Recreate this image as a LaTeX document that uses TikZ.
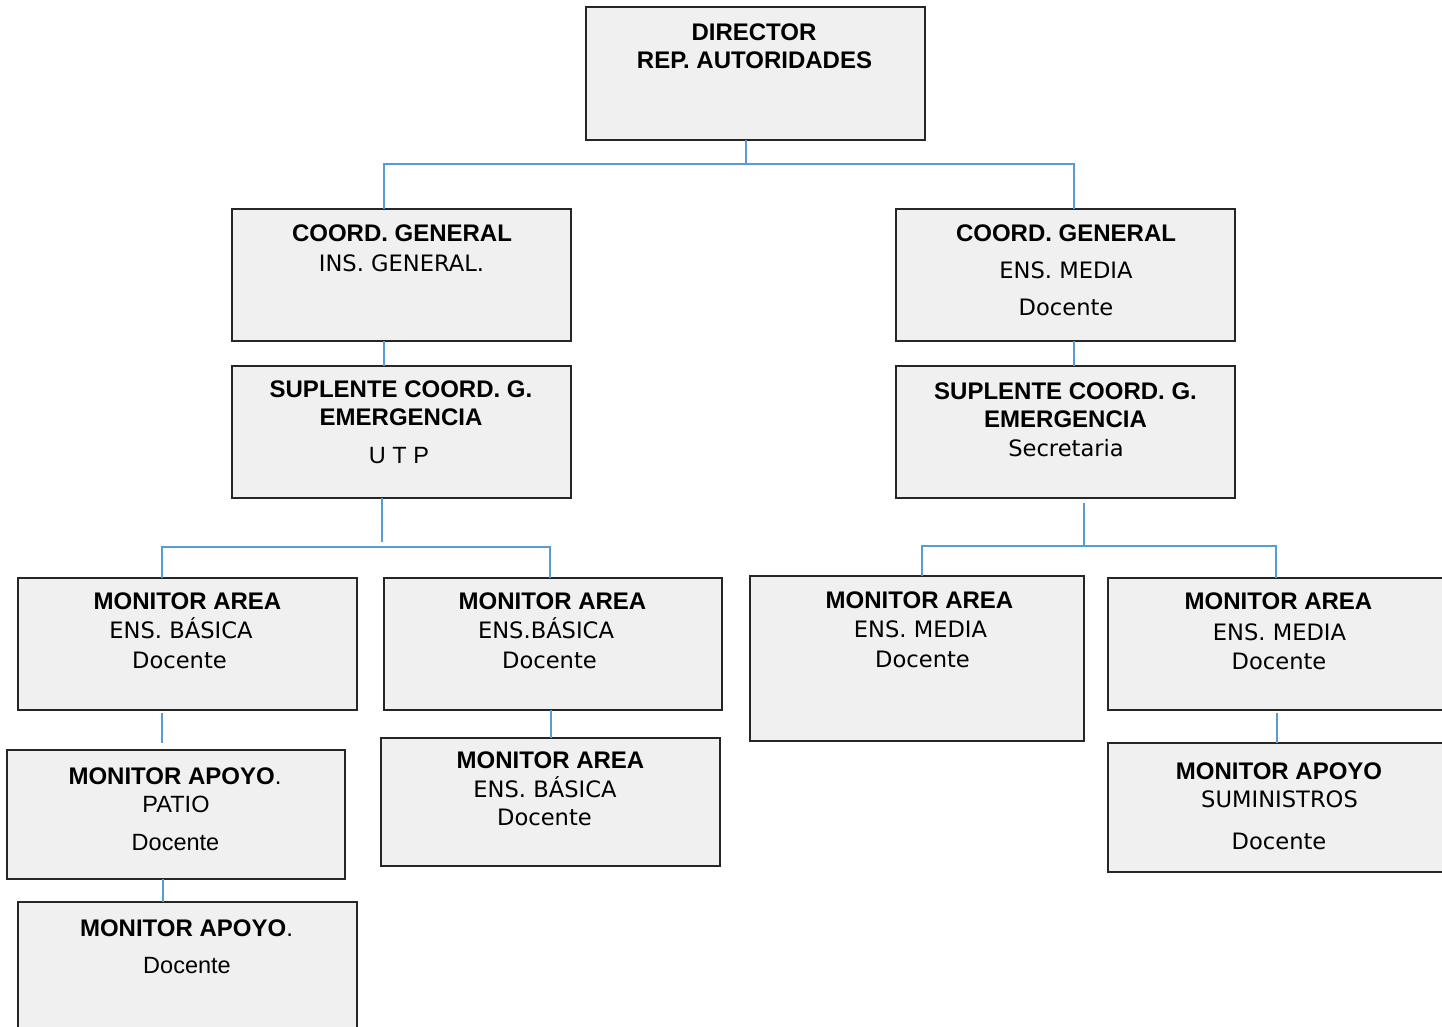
\documentclass[tikz,border=0pt]{standalone}
\usepackage{fontspec}
\setmainfont{Liberation Sans}
\newfontfamily\dvfont{DejaVu Sans}
\definecolor{boxfill}{HTML}{F0F0F0}
\definecolor{linkblue}{HTML}{5B9BD5}
\begin{document}
\begin{tikzpicture}[x=1pt,y=-1pt,
  box/.style={draw=black!85, line width=1.1pt, fill=boxfill, inner sep=0pt, outer sep=0pt, anchor=north west},
  bt/.style={font=\bfseries\fontsize{24}{24}\selectfont, anchor=base, inner sep=0pt},
  dt/.style={font=\dvfont\fontsize{22.6}{22.6}\selectfont, anchor=base, inner sep=0pt},
  rt/.style={font=\fontsize{23.5}{23.5}\selectfont, anchor=base, inner sep=0pt},
  conn/.style={draw=linkblue, line width=1.2pt}]
\useasboundingbox (0,0) rectangle (1442,1026);
\clip (0,0) rectangle (1442,1026);

% boxes
\node[box, minimum width=339pt, minimum height=133pt] (dir) at (586,7) {};
\node[box, minimum width=339pt, minimum height=132pt] (cgl) at (232,209) {};
\node[box, minimum width=339pt, minimum height=132pt] (cgr) at (896,209) {};
\node[box, minimum width=339pt, minimum height=132pt] (spl) at (232,366) {};
\node[box, minimum width=339pt, minimum height=132pt] (spr) at (896,366) {};
\node[box, minimum width=339pt, minimum height=132pt] (mal1) at (18,578) {};
\node[box, minimum width=338pt, minimum height=132pt] (mal2) at (384,578) {};
\node[box, minimum width=334pt, minimum height=165pt] (mar1) at (750,576) {};
\node[box, minimum width=345pt, minimum height=132pt] (mar2) at (1108,578) {};
\node[box, minimum width=338pt, minimum height=129pt] (apl1) at (7,750) {};
\node[box, minimum width=339pt, minimum height=140pt] (apl2) at (18,902) {};
\node[box, minimum width=339pt, minimum height=128pt] (mal3) at (381,738) {};
\node[box, minimum width=345pt, minimum height=129pt] (apr) at (1108,743) {};

% texts
\node[bt] (t1a) at (754,40) {DIRECTOR};
\node[bt] (t1b) at (754.5,68) {REP. AUTORIDADES};

\node[bt] (t2a) at (402,241) {COORD. GENERAL};
\node[dt] (t2b) at (401.5,271) {INS. GENERAL.};

\node[bt] (t3a) at (1066,241) {COORD. GENERAL};
\node[dt] (t3b) at (1066,278) {ENS. MEDIA};
\node[dt] (t3c) at (1066,315) {Docente};

\node[bt] (t4a) at (401,397) {SUPLENTE COORD. G.};
\node[bt] (t4b) at (401,425) {EMERGENCIA};
\node[rt] (t4c) at (399,463) {U T P};

\node[bt] (t5a) at (1065.5,399) {SUPLENTE COORD. G.};
\node[bt] (t5b) at (1065.5,427) {EMERGENCIA};
\node[dt] (t5c) at (1066,456) {Secretaria};

\node[bt] (t6a) at (187.5,609) {MONITOR AREA};
\node[dt] (t6b) at (181,638) {ENS. BÁSICA};
\node[dt] (t6c) at (179.5,668) {Docente};

\node[bt] (t7a) at (552.5,609) {MONITOR AREA};
\node[dt] (t7b) at (546,638) {ENS.BÁSICA};
\node[dt] (t7c) at (549.5,668) {Docente};

\node[bt] (t8a) at (919.5,608) {MONITOR AREA};
\node[dt] (t8b) at (920.5,637) {ENS. MEDIA};
\node[dt] (t8c) at (922.5,667) {Docente};

\node[bt] (t9a) at (1278.5,609) {MONITOR AREA};
\node[dt] (t9b) at (1279.5,640) {ENS. MEDIA};
\node[dt] (t9c) at (1279,669) {Docente};

\node[bt] (t10a) at (175,784) {MONITOR APOYO\textmd{.}};
\node[rt] (t10b) at (176,812) {PATIO};
\node[rt] (t10c) at (175.5,850) {Docente};

\node[bt] (t11a) at (186.5,936) {MONITOR APOYO\textmd{.}};
\node[rt] (t11b) at (187,973) {Docente};

\node[bt] (t12a) at (550.5,768) {MONITOR AREA};
\node[dt] (t12b) at (545,797) {ENS. BÁSICA};
\node[dt] (t12c) at (544.5,825) {Docente};

\node[bt] (t13a) at (1279,779) {MONITOR APOYO};
\node[dt] (t13b) at (1279.5,807) {SUMINISTROS};
\node[dt] (t13c) at (1279,849) {Docente};

% connectors
\draw[conn] (746,0 |- dir.south) -- (746,164);
\draw[conn] (384,0 |- cgl.north) -- (384,164) -- (1074,164) -- (1074,0 |- cgr.north);
\draw[conn] (384,0 |- cgl.south) -- (384,0 |- spl.north);
\draw[conn] (1074,0 |- cgr.south) -- (1074,0 |- spr.north);
\coordinate (jl) at (382,542);
\draw[conn] (382,0 |- spl.south) -- (jl);
\draw[conn] (162,0 |- mal1.north) -- (162,547) -- (550,547) -- (550,0 |- mal2.north);
\coordinate (jr) at (1084,546);
\draw[conn] ([yshift=-5pt]spr.south -| jr) -- (jr);
\draw[conn] (922,0 |- mar1.north) -- (922,546) -- (1276,546) -- (1276,0 |- mar2.north);
\draw[conn] ([yshift=-3pt]mal1.south -| 162,0) -- ([yshift=7pt]apl1.north -| 162,0);
\draw[conn] (163,0 |- apl1.south) -- (163,0 |- apl2.north);
\draw[conn] (551,0 |- mal2.south) -- (551,0 |- mal3.north);
\draw[conn] ([yshift=-3pt]mar2.south -| 1277,0) -- (1277,0 |- apr.north);
\end{tikzpicture}
\end{document}
